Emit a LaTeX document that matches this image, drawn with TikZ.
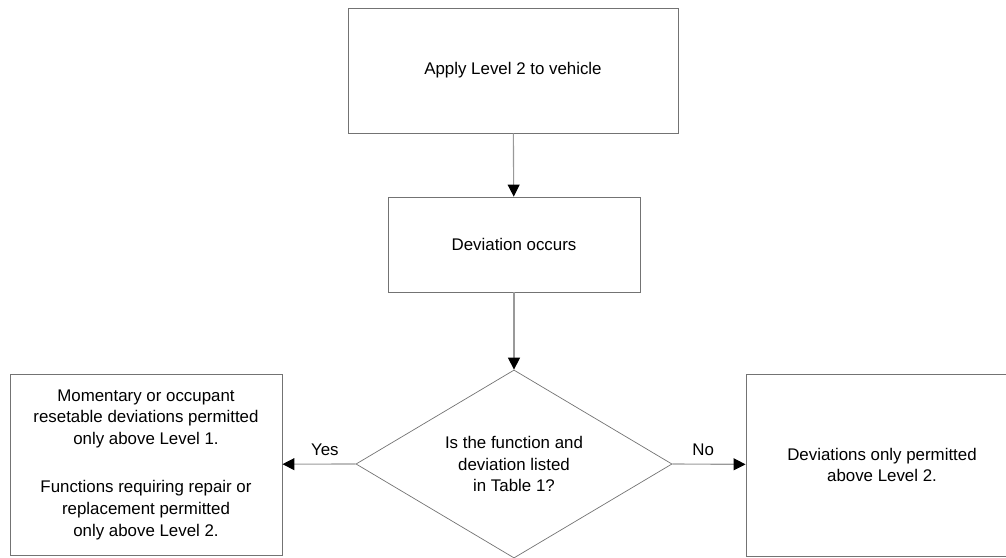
\documentclass[tikz,border=0pt]{standalone}
\usepackage{fontspec}
\setmainfont{Liberation Sans}
\usetikzlibrary{shapes.geometric}
\usetikzlibrary{arrows.meta}

\begin{document}
\begin{tikzpicture}[x=0.025cm, y=-0.025cm,
		    every node/.style={font=\fontsize{12}{15.4}\selectfont, align=center},
		    stepbox/.style={rectangle, draw=black!55, line width=0.6pt, inner sep=0pt},
		    choice/.style={diamond, draw=black!55, line width=0.5pt, aspect=1.7, inner sep=0pt,
		                   minimum width=7.9cm, minimum height=4.7cm},
		    flow/.style={draw=black!40, line width=0.8pt, -{Triangle[length=0.3cm, width=0.3cm, color=black]}}]

\useasboundingbox (0,0) rectangle (1006,558);

\node[stepbox, minimum width=8.25cm, minimum height=3.125cm] (apply) at (513,70.5) {Apply Level 2 to vehicle};
\node[stepbox, minimum width=6.3cm, minimum height=2.375cm] (occurs) at (514,244.5) {Deviation occurs};
\node[choice] (listed) at (514,464) {Is the function and\\deviation listed\\in Table 1?};
\node[stepbox, minimum width=6.8cm, minimum height=4.525cm] (yesbox) at (146,464.5)
    {Momentary or occupant\\resetable deviations permitted\\only above Level 1.\\[19pt]Functions requiring repair or\\replacement permitted\\only above Level 2.};
\node[stepbox, minimum width=6.8cm, minimum height=4.55cm] (nobox) at (882,465)
    {Deviations only permitted\\above Level 2.};

\draw[flow] (apply) -- (occurs);
\draw[flow] (occurs) -- (listed);
\draw[flow] (listed.west) -- node[above, pos=0.42, yshift=2pt] {Yes} (yesbox);
\draw[flow] (listed.east) -- node[above, pos=0.42, yshift=2pt] {No} (nobox);
\end{tikzpicture}
\end{document}
